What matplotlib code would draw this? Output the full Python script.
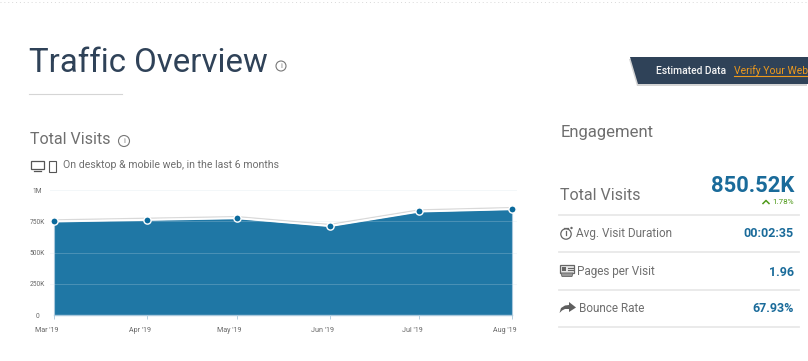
import matplotlib
matplotlib.use("Agg")
import matplotlib.pyplot as plt
import matplotlib.dates as mdates
import matplotlib.patheffects as pe
from matplotlib.patches import Circle, Polygon, Rectangle
from matplotlib.transforms import ScaledTranslation
from datetime import datetime

plt.rcParams['font.family'] = ['Roboto', 'DejaVu Sans']

months = ["2019-03-01", "2019-04-01", "2019-05-01", "2019-06-01", "2019-07-01", "2019-08-01"]
month_labels = ["Mar '19", "Apr '19", "May '19", "Jun '19", "Jul '19", "Aug '19"]
visits = [752000, 765000, 778000, 715000, 832000, 850520]
y_ticks = [0, 250000, 500000, 750000, 1000000]
y_labels = ["0", "250K", "500K", "750K", "1M"]
metrics = ["Avg. Visit Duration", "Pages per Visit", "Bounce Rate"]
metric_values = ["00:02:35", "1.96", "67.93%"]

W, H = 808, 361
fig = plt.figure(figsize=(W / 100, H / 100), dpi=100, facecolor="white")

# page overlay in pixel coordinates
pg = fig.add_axes([0, 0, 1, 1], zorder=0)
pg.set_xlim(0, W)
pg.set_ylim(H, 0)
pg.axis("off")

NAVY = "#2f4258"
GRAY = "#6f6f6f"
BLUE = "#1a6b9a"

# top dotted rule
pg.plot([0, 808], [2, 2], color="#d8d8d8", lw=0.7, ls=(0, (1, 3)))

# heading
pg.text(29, 63.5, "Traffic Overview", fontsize=23.8, color=NAVY, va="center", ha="left")
pg.plot([29, 122], [93.5, 93.5], color="#d5d5d5", lw=0.8)


def info(x, y, r=5):
    pg.add_patch(Circle((x, y), r, fc="none", ec="#777777", lw=0.8))
    pg.text(x, y + 0.2, "i", fontsize=5.5, color="#777777", ha="center", va="center")


info(281, 66, 5)
info(124, 141, 5.5)

pg.text(30, 140, "Total Visits", fontsize=11.5, color=GRAY, va="center")

# device icons
pg.add_patch(Rectangle((31, 161), 13, 8, fc="none", ec="#555555", lw=0.9))
pg.plot([34, 41], [171, 171], color="#555555", lw=0.9)
pg.add_patch(Rectangle((49, 161), 7, 10.5, fc="none", ec="#555555", lw=0.8))
pg.text(63, 165, "On desktop & mobile web, in the last 6 months", fontsize=7.6, color=GRAY, va="center")

# banner
pg.add_patch(Polygon([(630, 57), (808, 57), (808, 83.5), (638, 83.5)], closed=True, fc=NAVY, ec="none",
                     path_effects=[pe.SimplePatchShadow(offset=(-1, -1.5), shadow_rgbFace="#aaaaaa", alpha=0.5),
                                   pe.Normal()]))
pg.text(656, 70.5, "Estimated Data", fontsize=7.4, color="#f4f4f4", va="center", fontweight="medium")
pg.text(734, 70.5, "Verify Your Web", fontsize=7.5, color="#ee9a1d", va="center")
pg.plot([734, 808], [75.5, 75.5], color="#ee9a1d", lw=0.8)

# engagement panel
pg.text(561, 132, "Engagement", fontsize=12, color=GRAY, va="center")
pg.text(560, 195, "Total Visits", fontsize=11.5, color=GRAY, va="center")
pg.text(794, 185.5, "850.52K", fontsize=15.8, color=BLUE, va="center", ha="right", fontweight="bold")
pg.text(793.5, 202, "1.78%", fontsize=5.8, color="#4f9a1b", va="center", ha="right")
pg.plot([763, 766, 769], [203.5, 200.5, 203.5], color="#4f9a1b", lw=1.1)

rule_y = [214.5, 252, 289.5, 327]
for y in rule_y:
    pg.plot([559, 799], [y, y], color="#e8e8e8", lw=1.3)

text_x = [576, 577, 579]
text_y = [233.5, 272, 309]
for name, val, tx, ty in zip(metrics, metric_values, text_x, text_y):
    pg.text(tx, ty, name, fontsize=8.5, color=GRAY, va="center")
    pg.text(794, ty, val, fontsize=9, color=BLUE, va="center", ha="right", fontweight="bold")

# stopwatch
pg.add_patch(Circle((566, 234), 5.2, fc="none", ec="#666666", lw=0.9))
pg.plot([566, 566], [230.5, 234.5], color="#666666", lw=0.9)
pg.plot([564, 568], [227.5, 227.5], color="#666666", lw=0.9)
pg.add_patch(Circle((571.5, 228), 1.2, fc="#666666", ec="none"))
# pages
pg.add_patch(Rectangle((560, 265), 14, 8, fc="#e8e8e8", ec="#666666", lw=0.9))
pg.add_patch(Rectangle((561.5, 266.5), 4.5, 4, fc="#666666", ec="none"))
pg.plot([567.5, 572.5], [267.5, 267.5], color="#666666", lw=0.8)
pg.plot([567.5, 572.5], [270, 270], color="#666666", lw=0.8)
pg.add_patch(Polygon([(561, 273), (573, 273), (572, 276.5), (562, 276.5)], fc="#999999", ec="#666666", lw=0.6))
# share arrow
pg.add_patch(Polygon([(559.5, 313), (561, 308), (565, 305.5), (569, 305), (569, 302), (576, 307.5),
                      (569, 312), (569, 309), (565, 309), (562, 310.5)], fc="#5f5f5f", ec="none"))

# chart axes: left 50, right 517, top 190, bottom 315
L, R, T, B = 50, 517, 190.3, 315
ax = fig.add_axes([L / W, 1 - B / H, (R - L) / W, (B - T) / H], zorder=2)
ax.patch.set_alpha(0)
dates = [datetime.strptime(m, "%Y-%m-%d") for m in months]
xn = mdates.date2num(dates)

ax.fill_between(xn, 0, [v - 6000 for v in visits], color="#1f77a5", lw=0, zorder=1)
ax.plot(xn, [0] * len(xn), color="#a9c8dc", lw=1.0, zorder=2, clip_on=False)
ax.plot([xn[0], xn[0]], [0, visits[0] - 6000], color="#a9c8dc", lw=0.8, zorder=2)
ax.plot([xn[-1], xn[-1]], [0, visits[-1] - 6000], color="#a9c8dc", lw=0.8, zorder=2)

ax.set_xlim(xn[0] - 1.5, xn[-1] + 1.7)
ax.set_ylim(0, 1000000)
ax.set_yticks(y_ticks)
ax.set_yticklabels(y_labels, fontsize=4.8, color="#666666", ha="center")
ax.set_xticks(xn)
ax.set_xticklabels(month_labels, fontsize=5.1, color="#666666")
ax.tick_params(axis="y", length=0, pad=8.9)
ax.tick_params(axis="x", length=3, width=0.7, color="#b5cfe0", pad=5.5)
offset = ScaledTranslation(-7.3 / 100, 0, fig.dpi_scale_trans)
for lab in ax.get_xticklabels():
    lab.set_transform(lab.get_transform() + offset)
for s in ax.spines.values():
    s.set_visible(False)
ax.grid(axis="y", color="#cfdfe9", lw=0.7, alpha=0.25, zorder=3)
ax.set_axisbelow(False)

ax.plot(xn, visits, color="white", lw=1.1, zorder=4, solid_joinstyle="round", clip_on=False,
        path_effects=[pe.SimpleLineShadow(offset=(0, 0.9), shadow_color="#d0d0d0", alpha=0.8), pe.Normal()])
ax.plot(xn, visits, ls="none", marker="o", ms=5.2, mfc="#0b6a9c", mec="white", mew=1.0, zorder=5, clip_on=False)

fig.savefig("out.png", dpi=100, facecolor="white")
